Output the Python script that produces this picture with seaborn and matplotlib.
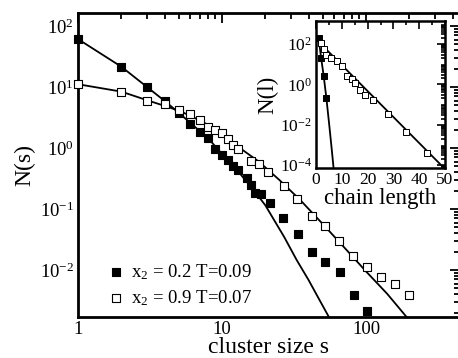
import numpy as np
import pandas as pd
import matplotlib
matplotlib.use("Agg")
import matplotlib.pyplot as plt
import matplotlib.ticker as mticker
import seaborn as sns

# ---- cluster size distribution, x2 = 0.2, T = 0.09 (filled) ----
s_a = [1, 2, 3, 4, 5, 6, 7, 8, 9, 10, 11, 12, 13, 15, 16, 17, 18.6,
       21.6, 26.5, 33.5, 41.9, 52.3, 66, 82.5, 102]
N_a = [61, 21.5, 10.1, 5.9, 3.7, 2.5, 1.8, 1.44, 0.95, 0.78, 0.64, 0.51, 0.44,
       0.32, 0.247, 0.185, 0.176, 0.126, 0.072, 0.039, 0.020, 0.0135, 0.0093,
       0.0039, 0.0021]

# ---- cluster size distribution, x2 = 0.9, T = 0.07 (open) ----
s_b = [1, 2, 3, 4, 5, 6, 7, 8, 9, 10, 11, 12, 13, 16, 18, 21, 27, 33,
       42, 52, 65, 81, 102, 128, 158, 199]
N_b = [11.1, 8.4, 5.96, 5.25, 4.2, 3.55, 2.9, 2.2, 2.0, 1.76, 1.4, 1.1, 0.95,
       0.62, 0.55, 0.40, 0.24, 0.147, 0.077, 0.052, 0.030, 0.017, 0.011,
       0.0078, 0.0059, 0.0039]

# ---- theory curves ----
fit_s_a = [1, 2, 3, 4, 5, 6, 7, 8, 10, 12, 14, 17, 20, 23, 27, 33, 40, 48, 56, 60]
fit_N_a = [61, 21.5, 10.1, 5.9, 3.8, 2.6, 1.9, 1.45, 0.80, 0.52, 0.33, 0.19,
           0.115, 0.066, 0.035, 0.0146, 0.0068, 0.0031, 0.0016, 0.0012]
fit_s_b = [1, 2, 3, 4, 5, 6, 8, 10, 13.3, 18, 25, 35, 50, 70, 100, 140, 200]
fit_N_b = [11.1, 8.4, 6.1, 4.9, 4.1, 3.4, 2.4, 1.75, 1.0, 0.6, 0.30, 0.14,
           0.057, 0.024, 0.0095, 0.0041, 0.0015]

# ---- chain length distribution (inset) ----
l_a = [1, 2, 3, 4]
Nl_a = [205, 19.5, 2.7, 0.22]
l_b = [2, 3, 4, 6, 8, 10, 12, 14, 15, 17, 19, 22, 28, 35, 43]
Nl_b = [108, 55, 29, 19.5, 15, 8.1, 2.6, 1.8, 1.2, 0.52, 0.3, 0.17, 0.034,
        0.0041, 0.00039]
fit_l_a = [1, 2, 3, 4, 5, 6, 7]
fit_Nl_a = [200, 20, 2.5, 0.22, 0.014, 8e-4, 4e-5]
fit_l_b = [1, 50]
fit_Nl_b = [130, 6.3e-5]

legend_labels = ["x$_2$ = 0.2 T=0.09", "x$_2$ = 0.9 T=0.07"]
main_xlabel = "cluster size s"
main_ylabel = "N(s)"
inset_xlabel = "chain length"
inset_ylabel = "N(l)"

sns.set_theme(style="white")
plt.rcParams["font.family"] = ["Liberation Serif", "DejaVu Serif"]
plt.rcParams["mathtext.fontset"] = "custom"
plt.rcParams["mathtext.rm"] = "Liberation Serif"
plt.rcParams["mathtext.it"] = "Liberation Serif:italic"
plt.rcParams["mathtext.bf"] = "Liberation Serif:bold"

W, H = 458, 358
fig = plt.figure(figsize=(W / 100, H / 100), dpi=100)
fig.patch.set_facecolor("white")


def px_axes(l, t, r, b):
    return [l / W, 1 - b / H, (r - l) / W, (b - t) / H]


ax = fig.add_axes(px_axes(78, 13, 460, 317))
ax.set_facecolor("white")

sns.lineplot(x=fit_s_a, y=fit_N_a, ax=ax, color="black", lw=1.3, sort=False,
             estimator=None)
sns.lineplot(x=fit_s_b, y=fit_N_b, ax=ax, color="black", lw=1.3, sort=False,
             estimator=None)
sns.scatterplot(x=s_a, y=N_a, ax=ax, marker="s", s=30, color="black",
                edgecolor="black", linewidth=0.8, clip_on=False, zorder=3,
                label=legend_labels[0])
sns.scatterplot(x=s_b, y=N_b, ax=ax, marker="s", s=30, facecolor="white",
                edgecolor="black", linewidth=0.8, clip_on=False, zorder=3,
                label=legend_labels[1])

ax.set_xscale("log")
ax.set_yscale("log")
ax.set_xlim(1, 10 ** (382 / 144))
ax.set_ylim(10 ** -2.77, 10 ** 2.213)
ax.xaxis.set_major_locator(mticker.FixedLocator([1, 10, 100]))
ax.xaxis.set_major_formatter(mticker.FixedFormatter(["1", "10", "100"]))
ax.xaxis.set_minor_locator(mticker.LogLocator(base=10, subs=np.arange(2, 10), numticks=20))
ax.xaxis.set_minor_formatter(mticker.NullFormatter())
ax.yaxis.set_major_locator(mticker.LogLocator(base=10, numticks=20))
ax.yaxis.set_major_formatter(mticker.LogFormatterSciNotation())
ax.yaxis.set_minor_locator(mticker.LogLocator(base=10, subs=np.arange(2, 10), numticks=20))
ax.yaxis.set_minor_formatter(mticker.NullFormatter())
ax.tick_params(which="both", direction="in", top=True, right=True,
               color="black", width=1.3)
ax.tick_params(which="major", length=7, labelsize=13.5, pad=3, labelcolor="black")
ax.tick_params(which="minor", length=4)
for sp in ax.spines.values():
    sp.set_visible(True)
    sp.set_color("black")
    sp.set_linewidth(2.0)

ax.set_xlabel(main_xlabel, fontsize=17, labelpad=-1, color="black")
ax.set_ylabel(main_ylabel, fontsize=17, labelpad=3, color="black")

leg = ax.legend(loc="lower left", bbox_to_anchor=(0.05, 0.005), frameon=False,
                fontsize=13.5, handletextpad=0.2, borderaxespad=0.0,
                labelspacing=0.35, handlelength=1.2)
for t in leg.get_texts():
    t.set_color("black")

# ---- inset ----
ins = fig.add_axes(px_axes(316, 21, 445, 168))
ins.set_facecolor("white")
sns.lineplot(x=fit_l_a, y=fit_Nl_a, ax=ins, color="black", lw=1.3, sort=False,
             estimator=None)
sns.lineplot(x=fit_l_b, y=fit_Nl_b, ax=ins, color="black", lw=1.3, sort=False,
             estimator=None)
sns.scatterplot(x=l_a, y=Nl_a, ax=ins, marker="s", s=16, color="black",
                edgecolor="black", linewidth=0.7, zorder=3, clip_on=False)
sns.scatterplot(x=l_b, y=Nl_b, ax=ins, marker="s", s=16, facecolor="white",
                edgecolor="black", linewidth=0.7, zorder=3, clip_on=False)
ins.set_yscale("log")
ins.set_xlim(0, 50)
ins.set_ylim(10 ** -4.15, 10 ** 3.14)
ins.xaxis.set_major_locator(mticker.MultipleLocator(10))
ins.xaxis.set_minor_locator(mticker.MultipleLocator(5))
ins.yaxis.set_major_locator(mticker.FixedLocator([1e-4, 1e-2, 1e0, 1e2]))
ins.yaxis.set_major_formatter(mticker.LogFormatterSciNotation())
ins.yaxis.set_minor_locator(mticker.LogLocator(base=10, subs=np.arange(2, 10), numticks=20))
ins.yaxis.set_minor_formatter(mticker.NullFormatter())
ins.tick_params(which="both", direction="in", top=True, right=True,
                color="black", width=1.2)
ins.tick_params(which="major", length=6, labelsize=12.5, pad=3, labelcolor="black")
ins.tick_params(which="minor", length=3)
for sp in ins.spines.values():
    sp.set_visible(True)
    sp.set_color("black")
    sp.set_linewidth(1.8)
ins.set_xlabel(inset_xlabel, fontsize=16.5, labelpad=0, color="black")
ins.set_ylabel(inset_ylabel, fontsize=16.5, labelpad=1, color="black")

fig.savefig("out.png", dpi=100, facecolor="white")
